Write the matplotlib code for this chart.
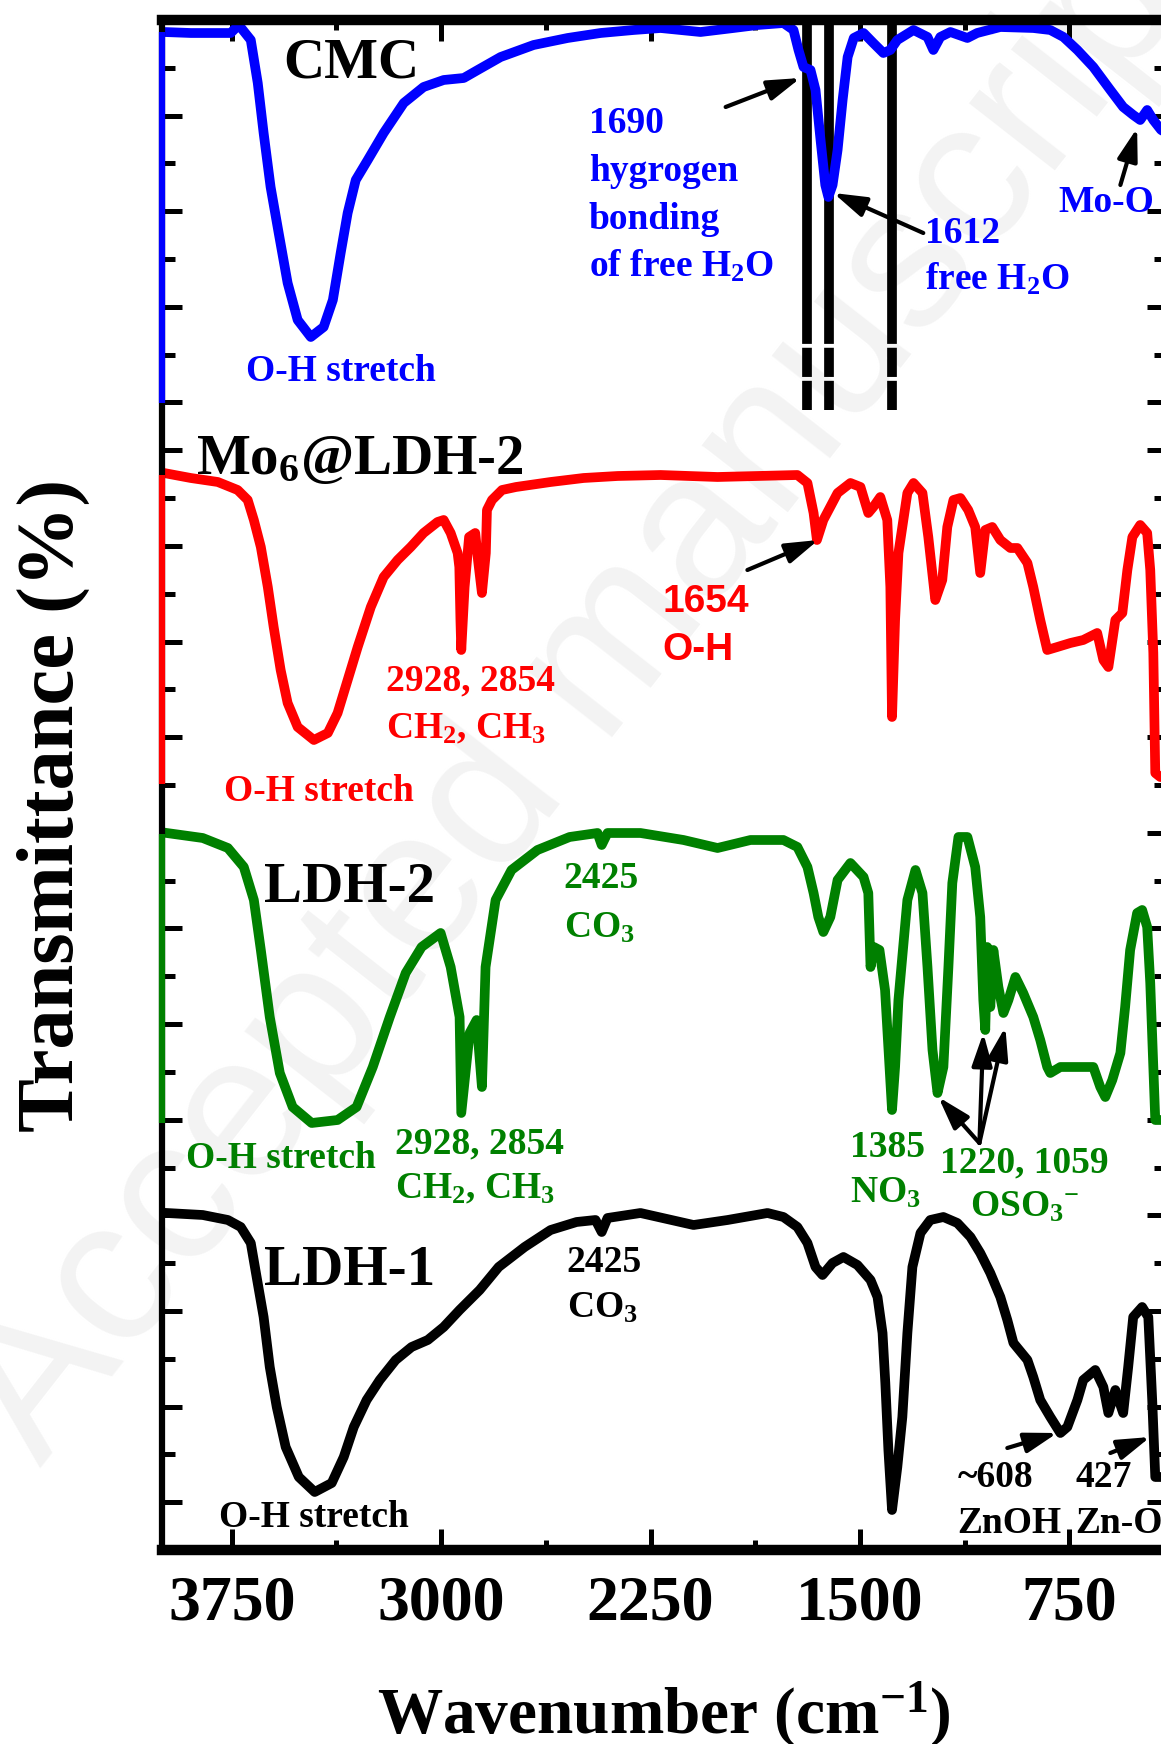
import numpy as np
import matplotlib
matplotlib.use('Agg')
import matplotlib.pyplot as plt

plt.rcParams['font.family'] = ['Liberation Serif', 'DejaVu Serif']
plt.rcParams['font.weight'] = 'bold'
plt.rcParams['mathtext.fontset'] = 'custom'
plt.rcParams['mathtext.rm'] = 'Liberation Serif:bold'
plt.rcParams['mathtext.it'] = 'Liberation Serif:bold:italic'
plt.rcParams['mathtext.bf'] = 'Liberation Serif:bold'
plt.rcParams['mathtext.default'] = 'rm'

# ---- spectra (wavenumber cm-1, stacked transmittance, arbitrary offset units)
cmc_wn = [3993, 3897, 3754, 3725, 3682, 3657, 3636, 3611, 3582, 3550, 3514, 3467,
          3421, 3388, 3360, 3335, 3306, 3263, 3206, 3134, 3063, 2991, 2919, 2869,
          2787, 2669, 2547, 2429, 2311, 2214, 2071, 1953, 1867, 1774, 1738, 1720,
          1702, 1677, 1659, 1641, 1624, 1613, 1598, 1580, 1562, 1544, 1522, 1487,
          1452, 1416, 1391, 1366, 1308, 1258, 1237, 1212, 1176, 1115, 1080, 997,
          879, 818, 771, 721, 664, 603, 557, 521, 496, 471, 449, 421, 400]
cmc_t = [151.8, 151.7, 151.7, 152.5, 151.0, 146.7, 141.7, 136.3, 131.7, 126.7, 123.0, 121.3,
         122.3, 125.0, 129.7, 133.7, 137.0, 139.0, 141.7, 144.7, 146.3, 147.0, 147.2, 148.0,
         149.3, 150.5, 151.2, 151.7, 152.0, 152.2, 151.8, 152.2, 152.5, 152.7, 152.0, 150.0,
         148.3, 148.0, 146.0, 141.0, 136.5, 135.3, 136.5, 140.0, 145.0, 149.3, 151.2, 151.7,
         150.7, 149.7, 150.0, 151.0, 152.0, 151.3, 150.0, 151.3, 151.8, 151.2, 151.7, 152.3,
         152.2, 152.0, 151.3, 150.0, 148.3, 146.0, 144.3, 143.5, 143.0, 144.0, 143.0, 142.0, 141.7]

mo_wn = [3993, 3897, 3800, 3729, 3693, 3671, 3646, 3621, 3600, 3575, 3550, 3514, 3456,
         3406, 3371, 3335, 3299, 3252, 3206, 3156, 3109, 3063, 3013, 2991, 2966, 2941,
         2935, 2931, 2928, 2916, 2900, 2878, 2868, 2854, 2840, 2836, 2818, 2782, 2732,
         2608, 2490, 2368, 2214, 2010, 1724, 1688, 1666, 1654, 1631, 1580, 1534, 1498,
         1470, 1452, 1427, 1402, 1391, 1385, 1374, 1362, 1330, 1308, 1276, 1255, 1230,
         1205, 1187, 1165, 1140, 1112, 1087, 1069, 1051, 1026, 997, 961, 936, 900, 879,
         854, 829, 793, 746, 700, 650, 628, 610, 585, 560, 542, 524, 496, 471, 460, 449,
         442, 424, 400]
mo_t = [107.7, 107.2, 106.8, 106.0, 105.0, 103.0, 100.3, 96.3, 92.3, 88.0, 84.7, 82.3, 81.0,
        81.7, 83.7, 87.0, 90.3, 94.3, 97.3, 99.0, 100.3, 101.7, 102.8, 103.0, 101.7, 99.7,
        98.3, 93.0, 90.0, 96.3, 101.3, 101.7, 99.0, 95.7, 99.7, 104.0, 105.0, 106.0, 106.3,
        106.8, 107.2, 107.4, 107.5, 107.3, 107.5, 106.7, 103.7, 101.0, 103.0, 105.7, 106.7, 106.3,
        103.7, 104.3, 105.3, 103.0, 96.3, 83.3, 93.0, 99.7, 105.7, 106.7, 105.7, 101.3, 95.0,
        97.0, 102.3, 105.0, 105.2, 104.0, 102.3, 97.7, 102.0, 102.3, 101.0, 100.2, 100.2, 98.7, 96.3,
        93.0, 90.0, 90.3, 90.7, 91.0, 91.7, 89.0, 88.3, 93.0, 93.7, 98.0, 101.3, 102.5, 101.7, 98.0, 89.7,
        77.7, 77.3, 77.3]

ldh2_wn = [3983, 3854, 3764, 3707, 3671, 3646, 3614, 3578, 3532, 3464, 3371, 3303, 3245,
           3184, 3127, 3070, 3002, 2966, 2934, 2928, 2898, 2873, 2854, 2841, 2805, 2748,
           2655, 2540, 2440, 2425, 2404, 2286, 2132, 2010, 1892, 1774, 1724, 1688, 1666,
           1649, 1631, 1606, 1580, 1534, 1487, 1470, 1462, 1450, 1430, 1410, 1385, 1374,
           1362, 1330, 1301, 1276, 1258, 1240, 1222, 1201, 1183, 1169, 1147, 1115, 1087,
           1069, 1058, 1051, 1044, 1033, 1022, 1004, 986, 968, 943, 915, 879, 854, 829,
           818, 782, 721, 664, 639, 621, 596, 567, 550, 532, 507, 489, 471, 460, 449, 442, 400]
ldh2_t = [71.7, 71.2, 70.2, 68.3, 65.0, 60.0, 53.3, 47.7, 44.3, 42.7, 43.0, 44.3, 48.3,
          53.3, 57.7, 60.3, 61.7, 58.3, 53.3, 43.7, 51.7, 53.0, 46.3, 58.3, 65.0, 68.0,
          70.0, 71.3, 71.7, 70.5, 71.7, 71.7, 71.0, 70.2, 71.0, 71.0, 70.3, 68.3, 65.7,
          63.3, 61.8, 63.3, 67.0, 68.7, 67.3, 65.7, 58.3, 60.3, 60.0, 56.0, 44.0, 48.3,
          55.0, 65.0, 68.0, 65.7, 58.3, 50.0, 45.7, 48.3, 58.3, 66.7, 71.3, 71.3, 68.3,
          63.3, 55.0, 52.0, 60.3, 54.3, 60.0, 56.3, 53.7, 55.0, 57.3, 55.7, 53.3, 51.0, 48.3,
          47.7, 48.3, 48.3, 48.3, 46.3, 45.3, 47.0, 49.7, 54.3, 60.0, 63.7, 64.0, 62.3, 56.7, 48.3, 43.0, 43.0]

ldh1_wn = [3983, 3854, 3764, 3718, 3682, 3661, 3636, 3614, 3589, 3557, 3510, 3453, 3392,
           3349, 3313, 3267, 3220, 3163, 3106, 3048, 2991, 2934, 2862, 2794, 2701, 2608,
           2515, 2447, 2425, 2404, 2286, 2096, 1974, 1831, 1774, 1724, 1688, 1659, 1634,
           1598, 1559, 1509, 1462, 1437, 1419, 1409, 1398, 1385, 1366, 1348, 1330, 1312,
           1283, 1248, 1201, 1151, 1104, 1069, 1033, 997, 972, 950, 900, 879, 854, 818,
           782, 757, 721, 700, 657, 628, 610, 585, 557, 539, 521, 489, 467, 453, 442, 400]
ldh1_t = [33.7, 33.5, 33.0, 32.3, 30.7, 27.3, 23.3, 18.3, 14.3, 10.3, 7.3, 5.8, 6.7,
          9.3, 12.3, 15.0, 17.0, 19.0, 20.3, 21.0, 22.3, 24.0, 26.0, 28.3, 30.3, 32.0,
          32.8, 33.0, 31.8, 33.2, 33.7, 32.5, 33.0, 33.7, 33.3, 32.3, 30.7, 28.3, 27.5,
          28.7, 29.3, 28.5, 27.0, 25.3, 21.7, 16.7, 10.0, 4.0, 8.3, 13.3, 21.7, 28.3,
          31.7, 33.0, 33.3, 32.7, 31.3, 29.7, 27.7, 25.3, 23.0, 20.7, 19.0, 17.3, 15.0, 13.3,
          11.7, 12.3, 15.0, 17.0, 18.0, 16.3, 13.7, 16.0, 13.7, 18.3, 23.3, 24.3, 23.3, 15.0, 7.3, 7.3]

spectra = [(cmc_wn, cmc_t, '#0000ff'), (mo_wn, mo_t, '#ff0000'),
           (ldh2_wn, ldh2_t, '#008000'), (ldh1_wn, ldh1_t, 'black')]

# coloured left-axis segments of the stacked layers (bottom, top)
layer_axes = [(114.7, 151.8, '#0000ff'), (76.6, 107.5, '#ff0000'), (42.7, 71.6, '#008000')]

# vertical marker lines in the CMC layer
marker_wn = [1690, 1612, 1385]
marker_top, marker_solid_end, marker_bottom = 153.0, 122.8, 114.0

# curve names
names = [('CMC', 3564, 147.2), ('Mo$_6$@LDH-2', 3879, 107.6),
         ('LDH-2', 3635, 64.8), ('LDH-1', 3635, 26.5)]

# peak annotations: lines, wn, T of first baseline, colour, alignment, line step
notes = [
    (['O-H stretch'], 3700, 116.9, '#0000ff', 'left', 0),
    (['1690', 'hygrogen', 'bonding', 'of free H$_2$O'], 2472, 141.7, '#0000ff', 'left', 4.8),
    (['1612', 'free H$_2$O'], 1266, 130.7, '#0000ff', 'left', 4.7),
    (['Mo-O'], 789, 133.8, '#0000ff', 'left', 0),
    (['2928, 2854', 'CH$_2$, CH$_3$'], 3199, 86.0, '#ff0000', 'left', 4.8),
    (['O-H stretch'], 3779, 74.9, '#ff0000', 'left', 0),
    (['2425', 'CO$_3$'], 2561, 66.2, '#008000', 'left', 5.0),
    (['O-H stretch'], 3915, 38.2, '#008000', 'left', 0),
    (['2928, 2854', 'CH$_2$, CH$_3$'], 3164, 39.7, '#008000', 'left', 4.5),
    (['1385', 'NO$_3$'], 1534, 39.3, '#008000', 'left', 4.6),
    (['1220, 1059', 'OSO$_3$$^{-}$'], 911, 37.8, '#008000', 'center', 4.5),
    (['2425', 'CO$_3$'], 2550, 27.8, 'black', 'left', 4.6),
    (['O-H stretch'], 3797, 2.3, 'black', 'left', 0),
    (['~608', 'ZnOH'], 1151, 6.3, 'black', 'left', 4.6),
    (['427', 'Zn-O'], 728, 6.3, 'black', 'left', 4.6),
]
sans_note = (['1654', 'O-H'], 2207, 93.8, '#ff0000', 4.8)

# arrows: (tail wn, tail T, head wn, head T)
arrows = [(1981, 144.3, 1713, 147.2), (1273, 131.7, 1595, 135.7),
          (567, 136.5, 507, 142.2), (1903, 98.0, 1649, 101.0),
          (1072, 40.7, 1219, 45.3), (1072, 40.7, 1058, 51.7), (1072, 40.7, 979, 52.3),
          (972, 10.2, 793, 11.7), (603, 9.7, 460, 11.3)]

x_major = [3750, 3000, 2250, 1500, 750]
x_minor = [3375, 2625, 1875, 1125]
y_grid = np.linspace(0, 153, 33)
y_major_idx = list(range(1, 24, 2)) + [24, 26, 28, 30]
y_minor_idx = list(range(2, 23, 2)) + [25, 27, 29, 31]

W, H = 1161, 1744
fig = plt.figure(figsize=(W / 100, H / 100), dpi=100)
ax = fig.add_axes([162 / W, 1 - 1550 / H, (1167 - 162) / W, 1530 / H])
ax.set_facecolor('none')

fig.text(590 / W, 1 - 680 / H, 'Accepted manuscript', family='Liberation Sans',
         weight='normal', fontsize=148, color='#f3f3f3', rotation=52,
         ha='center', va='center', zorder=-5)

for wn, t, c in spectra:
    ax.plot(wn, t, color=c, lw=7, solid_joinstyle='round', zorder=2)

for lo, hi, c in layer_axes:
    ax.plot([4000, 4000], [lo, hi], color=c, lw=4.5, zorder=3, clip_on=False,
            solid_capstyle='butt')

ax.vlines(marker_wn, marker_solid_end, marker_top, color='black', lw=7, zorder=1.5)
ax.vlines(marker_wn, marker_bottom, marker_solid_end, color='black', lw=7, zorder=1.5,
          linestyles=(0, (3, 0.4)))

for txt, x, y in names:
    ax.text(x, y, txt, fontsize=41, color='black', ha='left', va='baseline')


def put_lines(lines, x, y, step, **kw):
    for i, line in enumerate(lines):
        ax.text(x, y - i * step, line, va='baseline', **kw)


for lines, x, y, c, ha, step in notes:
    put_lines(lines, x, y, step, fontsize=27, color=c, ha=ha)

put_lines(sans_note[0], sans_note[1], sans_note[2], sans_note[4], fontsize=28,
          color=sans_note[3], family='Liberation Sans', ha='left')

for x0, y0, x1, y1 in arrows:
    ax.annotate('', xy=(x1, y1), xytext=(x0, y0),
                arrowprops=dict(arrowstyle='-|>,head_length=0.9,head_width=0.28',
                                lw=3, color='black', shrinkA=0, shrinkB=0,
                                mutation_scale=22))

ax.set_xlim(4000, 400)
ax.set_ylim(0, 153)
ax.set_xticks(x_major)
ax.set_xticks(x_minor, minor=True)
ax.set_yticks(y_grid[y_major_idx])
ax.set_yticks(y_grid[y_minor_idx], minor=True)
ax.tick_params(axis='both', which='both', direction='in', top=True, right=True,
               width=3.6, color='black')
ax.tick_params(axis='x', which='major', length=15, pad=18, labelsize=46)
ax.tick_params(axis='x', which='minor', length=7)
ax.tick_params(axis='y', which='major', length=14.5, labelleft=False)
ax.tick_params(axis='y', which='minor', length=9.5)
for lab in ax.get_xticklabels():
    lab.set_fontweight('bold')

ax.spines['left'].set_linewidth(4.5)
ax.spines['right'].set_linewidth(4.5)
ax.spines['top'].set_linewidth(7.5)
ax.spines['bottom'].set_linewidth(7.5)

fig.text(664 / W, 1 - 1733 / H, 'Wavenumber (cm$^{-1}$)', fontsize=47,
         ha='center', va='baseline')
fig.text(53 / W, 1 - 805 / H, 'Transmittance (%)', fontsize=58, rotation=90,
         ha='center', va='center')

fig.savefig('out.png', dpi=100)
